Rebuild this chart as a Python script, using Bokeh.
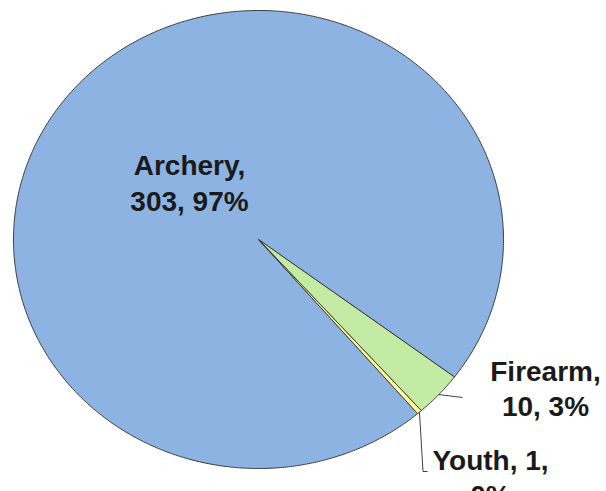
import numpy as np
from bokeh.plotting import figure
from bokeh.models import Range1d, ColumnDataSource
from bokeh.core.properties import value
from bokeh.embed import file_html
from bokeh.resources import INLINE

# ---- data ----
categories = ["Archery", "Firearm", "Youth"]
counts = [303, 10, 1]
percent_labels = ["97%", "3%", "0%"]
colors = ["#8DB3E2", "#C4EBA3", "#FFFF99"]

# ---- layout ----
W, H = 606, 491
CX, CY = 258, 239          # pie centre in canvas px
RX, RY = 245, 229          # pie radii in canvas px (slightly stretched)
START_DEG = -49.5          # where the first slice begins (clockwise drawing)


def px(X, Y):
    """picture-pixel position -> data coordinates"""
    return (X - CX) / RX, (CY - Y) / RY


p = figure(width=W, height=H, output_backend="svg", toolbar_location=None,
           x_range=Range1d(-CX / RX, (W - CX) / RX),
           y_range=Range1d(-(H - CY) / RY, CY / RY),
           min_border=0)
p.axis.visible = False
p.grid.visible = False
p.outline_line_color = None
p.background_fill_color = "white"

total = float(sum(counts))
fracs = [c / total for c in counts]
cum = np.concatenate([[0.0], np.cumsum(fracs)])

xs, ys, mids = [], [], []
for i, f in enumerate(fracs):
    a0 = np.deg2rad(START_DEG) - cum[i] * 2 * np.pi
    a1 = np.deg2rad(START_DEG) - cum[i + 1] * 2 * np.pi
    t = np.linspace(a0, a1, max(4, int(abs(a1 - a0) * 120)))
    xs.append(np.concatenate([[0.0], np.cos(t), [0.0]]).tolist())
    ys.append(np.concatenate([[0.0], np.sin(t), [0.0]]).tolist())
    mids.append((a0 + a1) / 2)

src = ColumnDataSource(dict(xs=xs, ys=ys, color=colors))
p.patches("xs", "ys", source=src, fill_color="color", line_color="#3c3c3c",
          line_width=1)

# leader lines (from slice mid-angle on the rim to the label)
lead_ends = {1: [px(462, 397)], 2: [px(422.5, 471), px(427, 471)]}
for i, pts in lead_ends.items():
    lx = [np.cos(mids[i])] + [q[0] for q in pts]
    ly = [np.sin(mids[i])] + [q[1] for q in pts]
    p.line(lx, ly, line_color="#404040", line_width=1)

labels = [f"{c},\n{n}, {pc}" for c, n, pc in zip(categories, counts, percent_labels)]
labels[2] = f"{categories[2]}, {counts[2]},\n{percent_labels[2]}"
label_pos = [px(189, 183), px(545, 388.5), px(490, 477.5)]
lsrc = ColumnDataSource(dict(x=[q[0] for q in label_pos],
                             y=[q[1] for q in label_pos], text=labels))
p.text("x", "y", text="text", source=lsrc, text_align="center",
       text_baseline="middle", text_font=value("Liberation Sans"),
       text_font_style="bold", text_font_size="28px", text_color="#1a1a1a",
       text_line_height=1.15)

open("out.html", "w").write(file_html(p, INLINE))
